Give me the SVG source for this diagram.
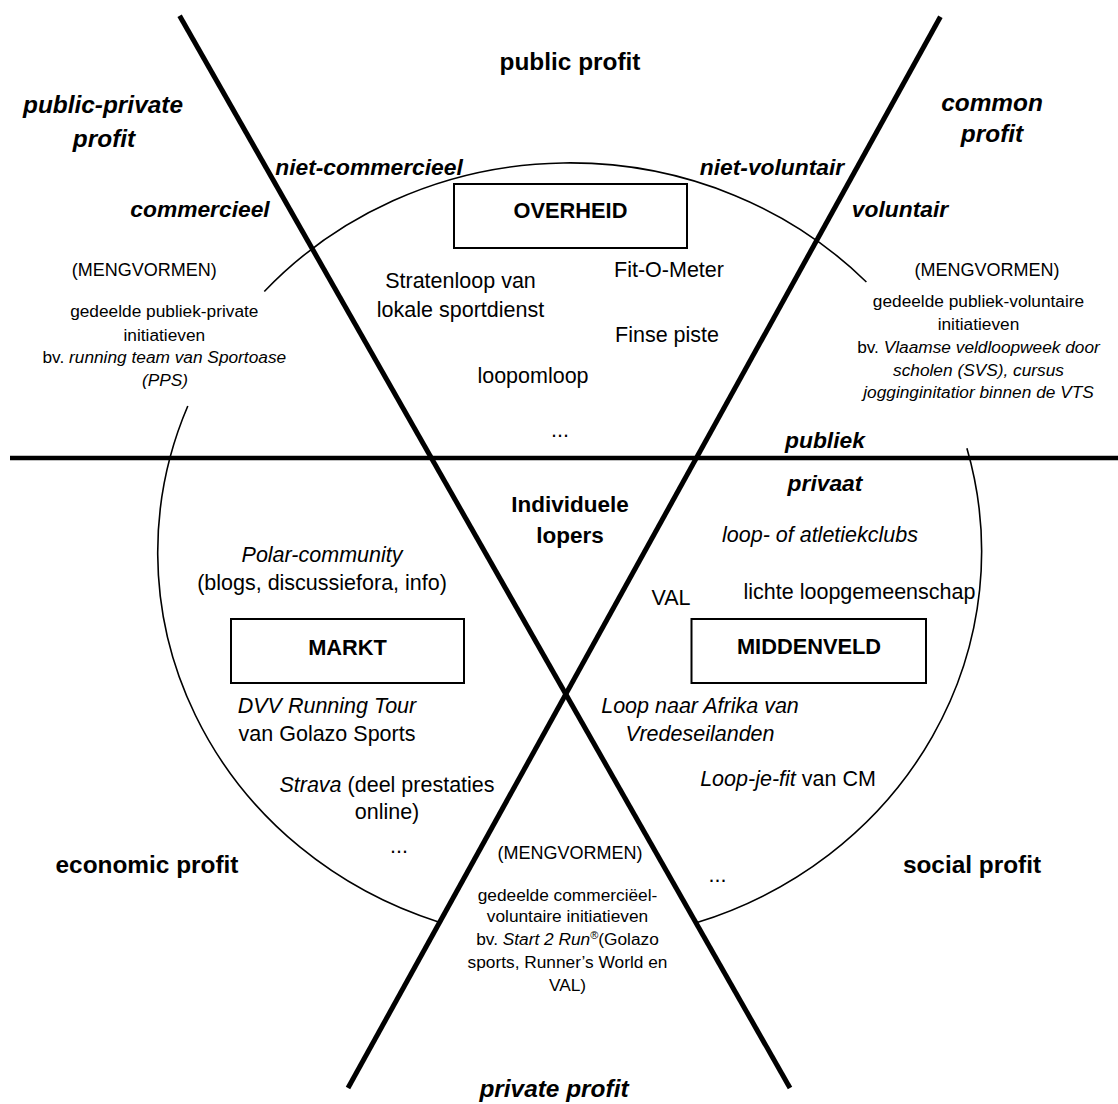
<svg xmlns="http://www.w3.org/2000/svg" width="1118" height="1104" viewBox="0 0 1118 1104">
<style>
text { font-family: "Liberation Sans", Arial, sans-serif; fill: #000; text-anchor: middle; }
.body { font-size: 21.5px; }
.small { font-size: 17.3px; }
.meng { font-size: 18px; }
.big { font-size: 24.4px; font-weight: bold; }
.bigi { font-size: 24.4px; font-weight: bold; font-style: italic; }
.lab { font-size: 22.8px; font-weight: bold; font-style: italic; }
.box { font-size: 21.8px; font-weight: bold; }
.i { font-style: italic; }
.thick { stroke: #000; stroke-width: 5; fill: none; }
.hline { stroke: #000; stroke-width: 4.5; fill: none; }
.arc { stroke: #000; stroke-width: 1.6; fill: none; }
rect.node { fill: #fff; stroke: #000; stroke-width: 2; }
</style>
<rect width="1118" height="1104" fill="#fff"/>

<g id="connectors">
  <path class="arc" d="M 264.3 291.5 A 412 390 0 0 1 866.4 282"/>
  <path class="arc" d="M 966.9 448.3 A 412 390 0 0 1 697 922.5"/>
  <path class="arc" d="M 438.5 922 A 412 390 0 0 1 187.8 406"/>
  <line class="thick" x1="179.6" y1="15.7" x2="790" y2="1088"/>
  <line class="thick" x1="940.4" y1="16.7" x2="348" y2="1088"/>
  <line class="hline" x1="10" y1="458" x2="1118" y2="458"/>
</g>

<g id="profit-labels">
  <text class="big" x="570" y="70">public profit</text>
  <text class="bigi" x="103" y="113">public-private</text>
  <text class="bigi" x="104" y="147">profit</text>
  <text class="bigi" x="992" y="111">common</text>
  <text class="bigi" x="992" y="142">profit</text>
  <text class="big" x="147" y="873">economic profit</text>
  <text class="big" x="972" y="873">social profit</text>
  <text class="bigi" x="554" y="1097">private profit</text>
</g>

<g id="axis-labels">
  <text class="lab" x="369" y="175">niet-commercieel</text>
  <text class="lab" x="200" y="217">commercieel</text>
  <text class="lab" x="772" y="175">niet-voluntair</text>
  <text class="lab" x="900" y="217">voluntair</text>
  <text class="lab" x="825" y="448">publiek</text>
  <text class="lab" x="825" y="491">privaat</text>
</g>

<g id="overheid">
  <rect class="node" x="454" y="184" width="233" height="64"/>
  <text class="box" x="570.5" y="218">OVERHEID</text>
  <text class="body" x="460.5" y="288">Stratenloop van</text>
  <text class="body" x="460.5" y="317">lokale sportdienst</text>
  <text class="body" x="669" y="277">Fit-O-Meter</text>
  <text class="body" x="667" y="342">Finse piste</text>
  <text class="body" x="533" y="383">loopomloop</text>
  <text class="body" x="560" y="437">...</text>
</g>

<g id="individuele-lopers">
  <text class="box" x="570" y="512" style="font-size:22.5px">Individuele</text>
  <text class="box" x="570" y="543" style="font-size:22.5px">lopers</text>
</g>

<g id="markt">
  <rect class="node" x="231" y="619" width="233" height="64"/>
  <text class="box" x="347.5" y="655">MARKT</text>
  <text class="body i" x="322" y="562">Polar-community</text>
  <text class="body" x="322" y="590">(blogs, discussiefora, info)</text>
  <text class="body i" x="327" y="713">DVV Running Tour</text>
  <text class="body" x="327" y="741">van Golazo Sports</text>
  <text class="body" x="387" y="792"><tspan class="i">Strava</tspan> (deel prestaties</text>
  <text class="body" x="387" y="819">online)</text>
  <text class="body" x="399" y="853">...</text>
</g>

<g id="middenveld">
  <rect class="node" x="691.5" y="619" width="234.5" height="64"/>
  <text class="box" x="809" y="654">MIDDENVELD</text>
  <text class="body i" x="820" y="542">loop- of atletiekclubs</text>
  <text class="body" x="671" y="605">VAL</text>
  <text class="body" x="859.5" y="599">lichte loopgemeenschap</text>
  <text class="body i" x="700" y="713">Loop naar Afrika van</text>
  <text class="body i" x="700" y="741">Vredeseilanden</text>
  <text class="body" x="788" y="786"><tspan class="i">Loop-je-fit</tspan> van CM</text>
  <text class="body" x="717.5" y="882">...</text>
</g>

<g id="mengvormen-publiek-privaat">
  <text class="meng" x="144.3" y="276">(MENGVORMEN)</text>
  <text class="small" x="164.3" y="317">gedeelde publiek-private</text>
  <text class="small" x="164.3" y="341">initiatieven</text>
  <text class="small" x="164.3" y="363">bv. <tspan class="i">running team van Sportoase</tspan></text>
  <text class="small i" x="165" y="386">(PPS)</text>
</g>

<g id="mengvormen-publiek-voluntair">
  <text class="meng" x="987" y="276">(MENGVORMEN)</text>
  <text class="small" x="978.5" y="307">gedeelde publiek-voluntaire</text>
  <text class="small" x="978.5" y="330">initiatieven</text>
  <text class="small" x="978.5" y="353">bv. <tspan class="i">Vlaamse veldloopweek door</tspan></text>
  <text class="small i" x="978.5" y="376">scholen (SVS), cursus</text>
  <text class="small i" x="978.5" y="398">jogginginitatior binnen de VTS</text>
</g>

<g id="mengvormen-commercieel-voluntair">
  <text class="meng" x="570" y="859">(MENGVORMEN)</text>
  <text class="small" x="567.5" y="901">gedeelde commerciëel-</text>
  <text class="small" x="567.5" y="922">voluntaire initiatieven</text>
  <text class="small" x="567.5" y="945">bv. <tspan class="i">Start 2 Run</tspan><tspan font-size="11" dy="-6">®</tspan><tspan dy="6">(Golazo</tspan></text>
  <text class="small" x="567.5" y="968">sports, Runner’s World en</text>
  <text class="small" x="567.5" y="991">VAL)</text>
</g>
</svg>
